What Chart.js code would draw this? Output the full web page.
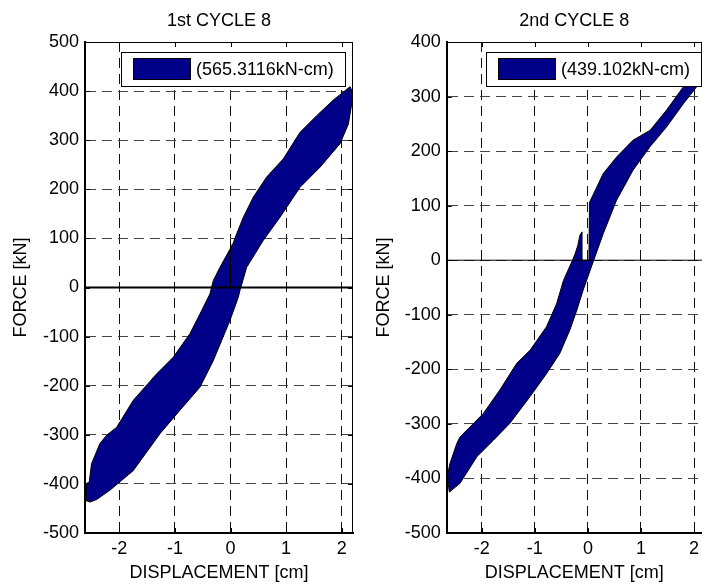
<!DOCTYPE html>
<html>
<head>
<meta charset="utf-8">
<script src="https://cdn.jsdelivr.net/npm/chart.js@4.4.1/dist/chart.umd.min.js"></script>
<style>
  html, body { margin: 0; padding: 0; background: #fff; overflow: hidden; }
  .plot { position: absolute; top: 0; height: 584px; }
  #left { left: 0; width: 360px; }
  #right { left: 360px; width: 342px; }
</style>
</head>
<body>
<div class="plot" id="left"><canvas id="c1"></canvas></div>
<div class="plot" id="right"><canvas id="c2"></canvas></div>
<script>
// values
const titles = ['1st CYCLE 8', '2nd CYCLE 8'];
const energyLabels = ['(565.3116kN-cm)', '(439.102kN-cm)'];
const xTicks = [-2, -1, 0, 1, 2];
const yTicks1 = [-500, -400, -300, -200, -100, 0, 100, 200, 300, 400, 500];
const yTicks2 = [-500, -400, -300, -200, -100, 0, 100, 200, 300, 400];
const xRange1 = [-2.617, 2.203];
const xRange2 = [-2.66, 2.15]; // right panel is cut by the picture edge

// hysteresis loop outlines (lower branch up, upper branch back)
const cycle1Disp = [-2.53, -2.41, -2.17, -1.75, -1.27, -0.91, -0.55, -0.31, -0.16, -0.01, 0.14, 0.17,
  0.29, 0.59, 0.89, 1.25, 1.61, 1.97, 2.12, 2.18, 2.20, 2.15,
  1.84, 1.55, 1.25, 0.95, 0.65, 0.41, 0.23, 0.11, 0.02, 0.0, 0.0, 0.0, -0.19, -0.31, -0.37,
  -0.55, -0.73, -1.03, -1.33, -1.75, -2.05, -2.23, -2.35, -2.50, -2.54, -2.60, -2.60, -2.53];
const cycle1Force = [-437, -432, -413, -373, -298, -250, -203, -149, -108, -67, -20, -6,
  41, 96, 143, 204, 245, 293, 333, 374, 397, 409,
  381, 350, 316, 262, 225, 184, 143, 109, 82, 90, 0, 80, 41, 14, -13,
  -54, -94, -142, -176, -230, -285, -301, -318, -359, -396, -400, -434, -437];

const cycle2Disp = [-2.61, -2.41, -2.09, -1.78, -1.47, -1.09, -0.78, -0.53, -0.34, -0.21, -0.09, 0.11,
  0.29, 0.54, 0.85, 1.17, 1.48, 1.80, 2.05, 2.15, 2.25, 2.32,
  2.14, 2.00, 1.80, 1.48, 1.17, 0.85, 0.54, 0.29, 0.03, 0.02, -0.11, -0.11, -0.15, -0.19, -0.24, -0.29,
  -0.46, -0.59, -0.78, -1.09, -1.34, -1.66, -1.97, -2.41, -2.47, -2.60, -2.65, -2.61];
const cycle2Force = [-425, -409, -360, -330, -299, -250, -208, -171, -128, -92, -55, 0,
  49, 110, 165, 208, 244, 287, 318, 330, 362, 430,
  398, 355, 318, 275, 238, 220, 189, 159, 106, 0, 0, 52, 46, 27, 12, 0,
  -37, -80, -122, -165, -189, -238, -281, -324, -336, -373, -397, -425];

const FONT = "'Liberation Sans', Arial, Helvetica, sans-serif";
const NAVY = '#000088';
Chart.defaults.font.family = FONT;
Chart.defaults.color = '#000';

// MATLAB-like extras: inward ticks, top/right box, legend frame on top
const matlabBox = {
  id: 'matlabBox',
  afterDraw(chart, args, opts) {
    const { ctx, chartArea: a, scales } = chart;
    const ds = chart.data.datasets[1];
    ctx.save();
    // legend
    ctx.font = '18px ' + FONT;
    const tw = ctx.measureText(ds.label).width;
    const w = Math.round(12 + 57 + 6 + tw + 11), h = 34;
    const r = Math.round(a.right) - opts.legendGap, t = Math.round(a.top) + 10, l = r - w;
    ctx.fillStyle = '#fff';
    ctx.fillRect(l, a.top + 1, w, t + h - a.top - 1);
    ctx.strokeStyle = '#000';
    ctx.lineWidth = 1;
    ctx.strokeRect(l + 0.5, t + 0.5, w, h);
    ctx.fillStyle = ds.backgroundColor;
    ctx.fillRect(l + 12, t + 6, 57, 21);
    ctx.strokeRect(l + 12.5, t + 6.5, 57, 21);
    ctx.fillStyle = '#000';
    ctx.textBaseline = 'middle';
    ctx.fillText(ds.label, l + 75, t + h / 2 + 1);
    // top (and right) edges
    ctx.beginPath();
    ctx.moveTo(a.left, Math.round(a.top) + 0.5);
    ctx.lineTo(a.right, Math.round(a.top) + 0.5);
    if (opts.rightEdge) {
      ctx.moveTo(Math.round(a.right) - 0.5, a.top);
      ctx.lineTo(Math.round(a.right) - 0.5, a.bottom);
    }
    // inward ticks
    scales.x.ticks.forEach(tk => {
      const px = Math.round(scales.x.getPixelForValue(tk.value)) + 0.5;
      ctx.moveTo(px, a.top); ctx.lineTo(px, a.top + 5);
      ctx.moveTo(px, a.bottom); ctx.lineTo(px, a.bottom - 5);
    });
    scales.y.ticks.forEach(tk => {
      const py = Math.round(scales.y.getPixelForValue(tk.value)) + 0.5;
      ctx.moveTo(a.left, py); ctx.lineTo(a.left + 5, py);
      if (opts.rightEdge) { ctx.moveTo(a.right, py); ctx.lineTo(a.right - 5, py); }
    });
    ctx.stroke();
    ctx.restore();
  }
};

function makeChart(id, title, label, disp, force, xRange, yTicks, panel) {
  const loop = disp.map((x, i) => ({ x: x, y: force[i] }));
  const zero = xRange.map(x => ({ x: x, y: 0 }));
  return new Chart(document.getElementById(id).getContext('2d'), {
    type: 'scatter',
    data: {
      datasets: [{
        label: 'zero',
        data: zero,
        showLine: true,
        borderColor: '#000',
        borderWidth: panel.zeroWidth,
        pointRadius: 0,
        fill: false
      }, {
        label: label,
        data: loop,
        showLine: true,
        borderColor: '#000',
        borderWidth: 1,
        backgroundColor: NAVY,
        pointRadius: 0,
        tension: 0,
        fill: 'shape'
      }]
    },
    options: {
      responsive: true,
      maintainAspectRatio: false,
      animation: false,
      devicePixelRatio: 1,
      layout: { autoPadding: false, padding: { left: 0, right: panel.padRight, top: 0, bottom: 0 } },
      plugins: {
        legend: { display: false },
        tooltip: { enabled: false },
        matlabBox: { legendGap: panel.legendGap, rightEdge: panel.rightEdge },
        title: {
          display: true,
          text: title,
          fullSize: false,
          color: '#000',
          font: { size: 18, weight: 'normal' },
          padding: { top: 10, bottom: 10.4 }
        }
      },
      scales: {
        x: {
          type: 'linear',
          min: xRange[0],
          max: xRange[1],
          afterBuildTicks: s => { s.ticks = xTicks.map(v => ({ value: v })); },
          afterFit: s => { s.height = 51; s.paddingLeft = 0; s.paddingRight = 0; },
          ticks: { color: '#000', font: { size: 18 }, padding: 5, autoSkip: false, maxRotation: 0, callback: v => String(v) },
          grid: { color: '#111', lineWidth: 1, drawTicks: false },
          border: { display: true, color: '#000', width: 2, dash: [10, 6] },
          title: { display: true, text: 'DISPLACEMENT [cm]', color: '#000', font: { size: 18 }, padding: { top: 0, bottom: 0 } }
        },
        y: {
          type: 'linear',
          min: yTicks[0],
          max: yTicks[yTicks.length - 1],
          afterBuildTicks: s => { s.ticks = yTicks.map(v => ({ value: v })); },
          afterFit: s => { s.width = panel.yWidth; },
          ticks: { color: '#000', font: { size: 18 }, padding: 6, autoSkip: false, callback: v => String(v) },
          grid: { color: '#444', lineWidth: 1, drawTicks: false },
          border: { display: true, color: '#000', width: 2, dash: [10, 6] },
          title: { display: true, text: 'FORCE [kN]', color: '#000', font: { size: 18 }, padding: { top: panel.yTitlePad, bottom: 0 } }
        }
      }
    },
    plugins: [matlabBox]
  });
}

makeChart('c1', titles[0], energyLabels[0], cycle1Disp, cycle1Force, xRange1, yTicks1,
  { yWidth: 85, padRight: 7, yTitlePad: 10, zeroWidth: 2, legendGap: 8, rightEdge: true });
makeChart('c2', titles[1], energyLabels[1], cycle2Disp, cycle2Force, xRange2, yTicks2,
  { yWidth: 86.7, padRight: 0, yTitlePad: 13, zeroWidth: 1, legendGap: 1, rightEdge: false });
</script>
</body>
</html>
